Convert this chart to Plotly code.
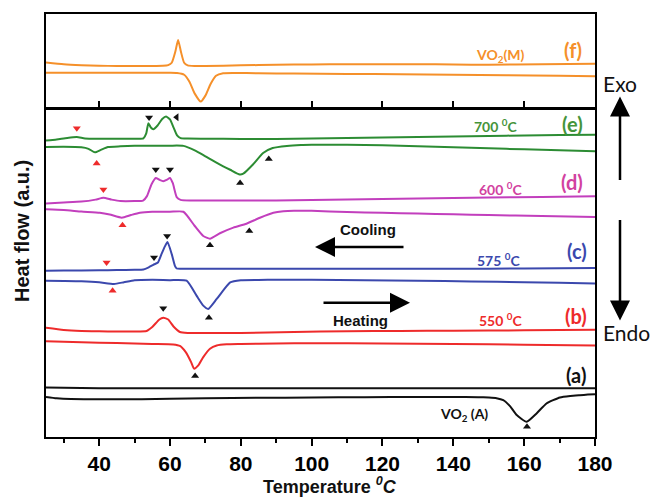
import plotly.graph_objects as go

# ---------------- data (Temperature in degC, heat flow in a.u., offset stacked) ----------------
# (f) VO2(M) - top panel
f_cool_T = [25, 30, 35, 40, 45, 50, 55, 58, 59.5, 60.5, 61.5, 62.3, 63.1, 64, 65, 67, 70, 80, 90, 100, 110, 120, 130, 140, 150, 165, 180]
f_cool_H = [45.3, 43.5, 42.6, 42, 41.8, 41.7, 41.7, 41.9, 42.6, 45, 56, 68, 56, 45, 42.4, 41.8, 41.7, 42.4, 43, 43.3, 43.5, 43.5, 43.5, 43.3, 43, 43.5, 44]
f_heat_T = [25, 35, 45, 55, 60, 62, 64, 65.5, 67, 68.7, 70, 71.5, 73, 75, 78, 85, 95, 110, 125, 140, 155, 170, 180]
f_heat_H = [35, 35, 35, 35, 34.9, 34.7, 33, 26, 14, 6, 12, 24, 32, 34.5, 34.8, 34.5, 34.2, 33.8, 33.4, 33, 32.5, 32, 31.5]

# (e) 700 C
e_cool_T = [25, 28, 31, 33.7, 36, 40, 45, 50, 52.5, 53.3, 53.9, 54.6, 55.3, 56.5, 57.8, 58.9, 60, 61, 62, 63, 65, 70, 80, 90, 100, 110, 120, 130, 140, 150, 160, 170, 180]
e_cool_H = [298, 299, 300.5, 301.3, 300, 299.7, 299.7, 299.7, 300, 305, 315.3, 311, 309.3, 313, 319.5, 322, 319, 311, 303, 300.3, 299.8, 299.7, 299.5, 299.5, 300, 300.5, 301, 301.5, 302, 302.5, 303, 303.4, 303.7]
e_heat_T = [25, 30, 35, 37, 38.8, 40.5, 42.5, 46, 50, 55, 60, 63.8, 67, 70, 74, 77, 79.7, 80.7, 83.5, 86.3, 89, 93, 97, 100, 110, 120, 130, 140, 150, 160, 170, 180]
e_heat_H = [291.3, 291.5, 291, 289.5, 286, 288.5, 291.3, 292, 292.5, 292.6, 292.7, 292.5, 288, 282, 274, 268.5, 263.7, 264.5, 274, 285.3, 290.3, 292.4, 293.3, 293.5, 293.5, 293, 292, 291, 290, 289, 288, 287]

# (d) 600 C
d_cool_T = [25, 30, 35, 39, 41.2, 43.5, 46, 50, 52.4, 53.5, 54.8, 56, 57, 58.1, 59.2, 60, 60.8, 61.9, 63, 66, 70, 80, 90, 100, 110, 120, 130, 140, 150, 165, 180]
d_cool_H = [234.7, 235.6, 236.5, 238.5, 240.3, 238.5, 237, 237, 237.5, 242, 254, 260.3, 258.5, 257, 258.5, 260.3, 255, 241, 238.2, 237.6, 237.5, 237.6, 237.7, 238.1, 238.5, 239, 239.5, 240, 240.5, 241.2, 242]
d_heat_T = [25, 30, 35, 40.2, 43, 46.4, 49, 51.5, 55, 60, 63.8, 67, 69.4, 71.3, 74.1, 77.9, 81.6, 85.4, 89.2, 92, 95, 100, 110, 120, 130, 140, 150, 165, 180]
d_heat_H = [228.7, 228, 226.5, 225.3, 223.5, 220.3, 223, 225.3, 226.3, 226.3, 226.3, 212, 202, 199.3, 204.7, 210.3, 214.3, 220.3, 225.3, 226.8, 227.3, 227.2, 226, 225.2, 224.5, 223.8, 223, 222, 221]

# (c) 575 C
c_cool_T = [25, 30, 40, 45, 50, 52.5, 54, 55.3, 56.6, 57.6, 58.5, 59.3, 60.5, 61.4, 61.9, 63, 65, 70, 80, 100, 120, 140, 160, 180]
c_cool_H = [167, 167.2, 167.5, 167.8, 168, 168.3, 170.5, 173, 175.3, 183.7, 191, 196, 183.7, 172, 169.3, 169, 169, 169, 169, 169, 169, 169, 169.3, 169.7]
c_heat_T = [25, 30, 35, 40, 44.2, 47, 50, 55, 60, 64.7, 67.5, 69.4, 70.8, 73.2, 77, 80, 85, 90, 100, 115, 130, 145, 160, 170, 180]
c_heat_H = [157, 156.8, 156.5, 155.5, 153.7, 155.5, 157.5, 158, 157.6, 157, 142, 132, 128.7, 138.7, 155.3, 157.5, 157.8, 158, 158, 157.5, 157, 156.3, 155.5, 154.9, 154.3]

# (b) 550 C
b_cool_T = [25, 30, 35, 40, 45, 50, 53.4, 55, 57, 58.1, 59.5, 61, 62.8, 65, 70, 80, 95, 110, 125, 140, 160, 180]
b_cool_H = [109.7, 107.5, 106.5, 106.2, 106, 106, 106.5, 110.5, 118, 119.7, 118, 111, 105.5, 104.5, 104.5, 104.5, 105.5, 106.3, 106.5, 106.8, 107.2, 107.7]
b_heat_T = [25, 30, 40, 50, 55, 60.9, 62.8, 64.5, 66, 66.8, 68, 69.4, 71.3, 73.2, 76, 80, 90, 100, 120, 140, 160, 180]
b_heat_H = [96.3, 95.8, 94.7, 94, 93.5, 93, 91.5, 85, 75, 68.7, 72, 80.3, 88.7, 92, 93.2, 93.5, 94, 94.2, 93.9, 93.5, 92.8, 92]

# (a) VO2(A)
a_cool_T = [25, 40, 60, 80, 100, 120, 140, 160, 180]
a_cool_H = [49.7, 49, 49, 49, 49, 49, 49, 49, 49]
a_heat_T = [25, 28, 32, 38, 45, 52, 60, 70, 85, 100, 115, 130, 140, 147, 150, 152.2, 154.1, 156, 157.9, 160.7, 163.5, 166.3, 170.1, 173, 175.7, 178, 180]
a_heat_H = [40.3, 39, 38.2, 38, 38, 38, 38.5, 39, 39.4, 39.7, 40, 40.2, 40.2, 40, 39.6, 39, 37, 31, 22, 15.3, 23.7, 33.7, 39.7, 41.2, 42, 42.6, 43]

# transition markers
blk_down_T = [54.1, 56.0, 60.0, 55.5, 59.2, 58.1]
blk_down_H = [321, 268.7, 268.7, 180.3, 202, 129.3]
blk_left_T = [61.9]
blk_left_H = [321.3]
blk_up_T = [79.8, 87.9, 71.3, 82.4, 71.0, 67.1, 160.8]
blk_up_H = [255.3, 279.3, 192.7, 207, 119.7, 61.3, 10.3]
red_down_T = [33.7, 41.2, 42.1]
red_down_H = [310.3, 248.7, 175.3]
red_up_T = [39.3, 46.6, 43.8]
red_up_H = [274.7, 212.7, 147]

x_ticks = [40, 60, 80, 100, 120, 140, 160, 180]
x_minor = [30, 50, 70, 90, 110, 130, 150, 170]

# ---------------- styles ----------------
ORANGE = "#f5902a"
GREEN = "#2c8c33"
MAGENTA = "#c23fbd"
BLUE = "#3b48ad"
RED = "#ee2b2b"
BLACK = "#111111"

fig = go.Figure()

def add_line(T, H, color, top=False):
    fig.add_trace(go.Scatter(
        x=T, y=H, mode="lines",
        line=dict(color=color, width=2, shape="spline", smoothing=0.5),
        xaxis="x2" if top else "x", yaxis="y2" if top else "y",
        showlegend=False, hoverinfo="skip"))

add_line(f_cool_T, f_cool_H, ORANGE, top=True)
add_line(f_heat_T, f_heat_H, ORANGE, top=True)
add_line(e_cool_T, e_cool_H, GREEN)
add_line(e_heat_T, e_heat_H, GREEN)
add_line(d_cool_T, d_cool_H, MAGENTA)
add_line(d_heat_T, d_heat_H, MAGENTA)
add_line(c_cool_T, c_cool_H, BLUE)
add_line(c_heat_T, c_heat_H, BLUE)
add_line(b_cool_T, b_cool_H, RED)
add_line(b_heat_T, b_heat_H, RED)
add_line(a_cool_T, a_cool_H, BLACK)
add_line(a_heat_T, a_heat_H, BLACK)

def add_marks(T, H, symbol, color):
    fig.add_trace(go.Scatter(
        x=T, y=H, mode="markers",
        marker=dict(symbol=symbol, size=7, color=color, line=dict(width=0)),
        showlegend=False, hoverinfo="skip"))

add_marks(blk_down_T, blk_down_H, "triangle-down", BLACK)
add_marks(blk_left_T, blk_left_H, "triangle-left", BLACK)
add_marks(blk_up_T, blk_up_H, "triangle-up", BLACK)
add_marks(red_down_T, red_down_H, "triangle-down", RED)
add_marks(red_up_T, red_up_H, "triangle-up", RED)

# ---------------- layout ----------------
L, R, T_, B = 46, 57, 12, 60
W, H = 652, 497
pw, ph = W - L - R, H - T_ - B

def px(x):
    return (x - L) / pw

def py(y):
    return (H - B - y) / ph

axis_common = dict(showline=True, linecolor="black", linewidth=1.6, mirror=True,
                   showgrid=False, zeroline=False)

fig.update_layout(
    width=W, height=H,
    margin=dict(l=L, r=R, t=T_, b=B),
    paper_bgcolor="white", plot_bgcolor="white",
    xaxis=dict(domain=[0, 1], range=[25, 180], anchor="y",
               tickvals=x_ticks, ticks="outside", ticklen=7, tickwidth=1.5, tickcolor="black",
               minor=dict(tickvals=x_minor, ticks="outside", ticklen=4, tickwidth=1.5, tickcolor="black"),
               tickfont=dict(family="Liberation Sans", size=21, color="black", weight="bold"),
               **axis_common),
    yaxis=dict(domain=[0, 0.7765], range=[0, 330], anchor="x",
               showticklabels=False, ticks="", **axis_common),
    xaxis2=dict(domain=[0, 1], range=[25, 180], anchor="y2",
                tickvals=[40, 60, 80, 100, 120, 140, 160], ticks="inside", ticklen=7,
                tickwidth=1.5, tickcolor="black", showticklabels=False, **axis_common),
    yaxis2=dict(domain=[0.7788, 1], range=[0, 94], anchor="x2",
                showticklabels=False, ticks="", **axis_common),
)

LAB = "Lato"
ARIAL = "Liberation Sans"

def txt(x, y, s, color, size, family=LAB, weight="bold", angle=0):
    fig.add_annotation(x=px(x), y=py(y), xref="paper", yref="paper", text=s,
                       showarrow=False, xanchor="center", yanchor="middle", textangle=angle,
                       font=dict(family=family, size=size, color=color, weight=weight))

LABEL_GREEN = "#45943a"
LABEL_PINK = "#d2429f"

txt(500, 54, "VO<sub>2</sub>(M)", ORANGE, 14)
txt(573, 48, "(f)", ORANGE, 20)
txt(495, 124, "700 <sup>0</sup>C", LABEL_GREEN, 14)
txt(572, 123, "(e)", LABEL_GREEN, 20)
txt(500, 187, "600 <sup>0</sup>C", LABEL_PINK, 14)
txt(572, 181, "(d)", LABEL_PINK, 20)
txt(498, 259, "575 <sup>0</sup>C", BLUE, 14)
txt(577, 250, "(c)", BLUE, 20)
txt(500, 319, "550 <sup>0</sup>C", RED, 14)
txt(576, 315, "(b)", RED, 20)
txt(576, 375, "(a)", BLACK, 20)
txt(464, 414, "VO<sub>2</sub> (A)", BLACK, 14)
txt(368, 229, "Cooling", BLACK, 15, family=ARIAL)
txt(360, 320, "Heating", BLACK, 15, family=ARIAL)
txt(620, 82, "Exo", BLACK, 21, weight="normal")
txt(626, 332, "Endo", BLACK, 21, weight="normal")
txt(22, 230, "Heat flow (a.u.)", BLACK, 20, family=ARIAL, angle=-90)
txt(330, 486, "Temperature <i><sup>0</sup>C</i>", BLACK, 18, family=ARIAL)

def arrow(x_head, y_head, x_tail, y_tail, width=2.5, size=1.6):
    fig.add_annotation(x=px(x_head), y=py(y_head), xref="paper", yref="paper",
                       ax=x_tail - x_head, ay=y_tail - y_head, axref="pixel", ayref="pixel",
                       text="", showarrow=True, arrowhead=2, arrowsize=size,
                       arrowwidth=width, arrowcolor="black")

arrow(620, 95, 620, 180)
arrow(620, 320, 620, 218)
arrow(410, 302, 322, 302)
arrow(315, 246, 405, 246)

fig.write_html("out.html", config={"displayModeBar": False},
               post_script="document.body.style.margin='0px';")
